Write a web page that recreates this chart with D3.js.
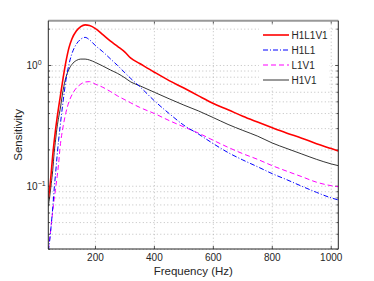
<!DOCTYPE html>
<html><head><meta charset="utf-8">
<script src="https://cdn.jsdelivr.net/npm/d3@7/dist/d3.min.js"></script>
<style>body{margin:0;background:#fff}svg{display:block}text{font-family:"Liberation Sans",Arial,sans-serif;fill:#262626}</style>
</head><body><svg id="c" width="374" height="281"></svg>
<script>
const freq = [40,45,50,55,60,65,70,75,80,90,100,110,120,135,150,165,180,200,225,250,275,300,320,350,400,450,500,550,600,650,700,750,800,850,900,950,1000,1024];
const h1l1v1 = [0.08,0.097,0.13,0.18,0.235,0.30,0.37,0.45,0.54,0.78,1.08,1.4,1.66,1.93,2.1,2.17,2.14,2.02,1.8,1.6,1.44,1.29,1.15,1.04,0.88,0.75,0.65,0.56,0.485,0.43,0.38,0.34,0.305,0.275,0.25,0.225,0.205,0.196];
const h1l1 = [0.029,0.036,0.048,0.066,0.095,0.13,0.18,0.24,0.31,0.5,0.76,1.02,1.25,1.5,1.65,1.71,1.63,1.46,1.3,1.14,1.0,0.87,0.78,0.67,0.51,0.40,0.32,0.27,0.225,0.19,0.165,0.145,0.127,0.113,0.1,0.089,0.08,0.077];
const l1v1 = [0.03,0.037,0.048,0.062,0.078,0.097,0.12,0.154,0.21,0.31,0.41,0.50,0.57,0.65,0.70,0.73,0.735,0.70,0.66,0.61,0.56,0.52,0.49,0.45,0.40,0.35,0.31,0.275,0.24,0.21,0.186,0.167,0.148,0.133,0.12,0.108,0.101,0.099];
const h1v1 = [0.068,0.083,0.105,0.135,0.19,0.245,0.31,0.37,0.43,0.62,0.80,0.93,1.02,1.1,1.13,1.13,1.11,1.06,0.99,0.92,0.86,0.79,0.73,0.68,0.60,0.53,0.47,0.42,0.37,0.325,0.29,0.26,0.228,0.205,0.185,0.167,0.153,0.148];
const seriesNames = ["H1L1V1","H1L1","L1V1","H1V1"];
const xTicks = [200,400,600,800,1000];
const yMajor = [0.1,1];
const yMinor = [0.03,0.04,0.05,0.06,0.07,0.08,0.09,0.2,0.3,0.4,0.5,0.6,0.7,0.8,0.9,2];

const L=48.3,R=338.3,T=20.7,B=249;
const x = d3.scaleLinear().domain([40,1024]).range([L,R]);
const y = d3.scaleLog().domain([0.0302,2.35]).range([B,T]);
const svg = d3.select("#c");

svg.append("defs").append("clipPath").attr("id","cp").append("rect")
  .attr("x",L).attr("y",T).attr("width",R-L).attr("height",B-T);

const grid = svg.append("g").attr("stroke","#b0b0b0").attr("stroke-width",0.8).attr("stroke-dasharray","1,2.5");
xTicks.forEach(t=>grid.append("line").attr("x1",x(t)).attr("x2",x(t)).attr("y1",T).attr("y2",B));
yMajor.concat(yMinor).forEach(t=>grid.append("line").attr("x1",L).attr("x2",R).attr("y1",y(t)).attr("y2",y(t)));

// ticks (inward, both sides)
const tk = svg.append("g").attr("stroke","#262626").attr("stroke-width",0.8);
xTicks.forEach(t=>{
  tk.append("line").attr("x1",x(t)).attr("x2",x(t)).attr("y1",B).attr("y2",B-3);
  tk.append("line").attr("x1",x(t)).attr("x2",x(t)).attr("y1",T).attr("y2",T+3);
});
yMajor.forEach(t=>{
  tk.append("line").attr("x1",L).attr("x2",L+3).attr("y1",y(t)).attr("y2",y(t));
  tk.append("line").attr("x1",R).attr("x2",R-3).attr("y1",y(t)).attr("y2",y(t));
});
yMinor.forEach(t=>{
  tk.append("line").attr("x1",L).attr("x2",L+1.8).attr("y1",y(t)).attr("y2",y(t));
  tk.append("line").attr("x1",R).attr("x2",R-1.8).attr("y1",y(t)).attr("y2",y(t));
});

const line = vals => d3.line().x((d,i)=>x(freq[i])).y(d=>y(d)).curve(d3.curveMonotoneX)(vals);
const styles = [
  {v:h1l1v1,c:"#ff0000",w:1.6,da:null},
  {v:h1l1,c:"#0000ff",w:1,da:"5,2,1,2"},
  {v:l1v1,c:"#ff00ff",w:1,da:"5,3"},
  {v:h1v1,c:"#000000",w:0.8,da:null}
];
const pg = svg.append("g").attr("clip-path","url(#cp)");
styles.slice().reverse().forEach(s=>{
  pg.append("path").attr("d",line(s.v)).attr("fill","none").attr("stroke",s.c)
    .attr("stroke-width",s.w).attr("stroke-dasharray",s.da);
});

// legend
const lg = svg.append("g");
lg.append("rect").attr("x",259).attr("y",25).attr("width",70).attr("height",62).attr("fill","#fff");
styles.forEach((s,i)=>{
  const yy = 35 + i*15;
  lg.append("line").attr("x1",263).attr("x2",289).attr("y1",yy).attr("y2",yy)
    .attr("stroke",s.c).attr("stroke-width",s.w).attr("stroke-dasharray",s.da);
  lg.append("text").attr("x",291.5).attr("y",yy+3.6).attr("font-size",10).text(seriesNames[i]);
});

// frame
const fr = svg.append("g").attr("fill","none");
fr.append("line").attr("x1",L).attr("x2",R).attr("y1",T).attr("y2",T).attr("stroke","#999").attr("stroke-width",2);
fr.append("path").attr("d",`M${L},${T}V${B}H${R}V${T}`).attr("stroke","#262626").attr("stroke-width",1);

// x tick labels
xTicks.forEach(t=>svg.append("text").attr("x",x(t)).attr("y",261).attr("text-anchor","middle").attr("font-size",10).text(t));
// y tick labels
yMajor.forEach(t=>{
  const e = Math.round(Math.log10(t));
  const tx = svg.append("text").attr("y",y(t)+4).attr("font-size",10);
  tx.append("tspan").attr("x",26.5).text("10");
  tx.append("tspan").attr("dy",-4).attr("font-size",7).text(e<0?"\u2212"+(-e):String(e));
});
svg.append("text").attr("x",(L+R)/2).attr("y",275).attr("text-anchor","middle").attr("font-size",11.5).text("Frequency (Hz)");
svg.append("text").attr("transform",`translate(21.5,${(T+B)/2}) rotate(-90)`).attr("text-anchor","middle").attr("font-size",11.5).text("Sensitivity");
</script></body></html>
